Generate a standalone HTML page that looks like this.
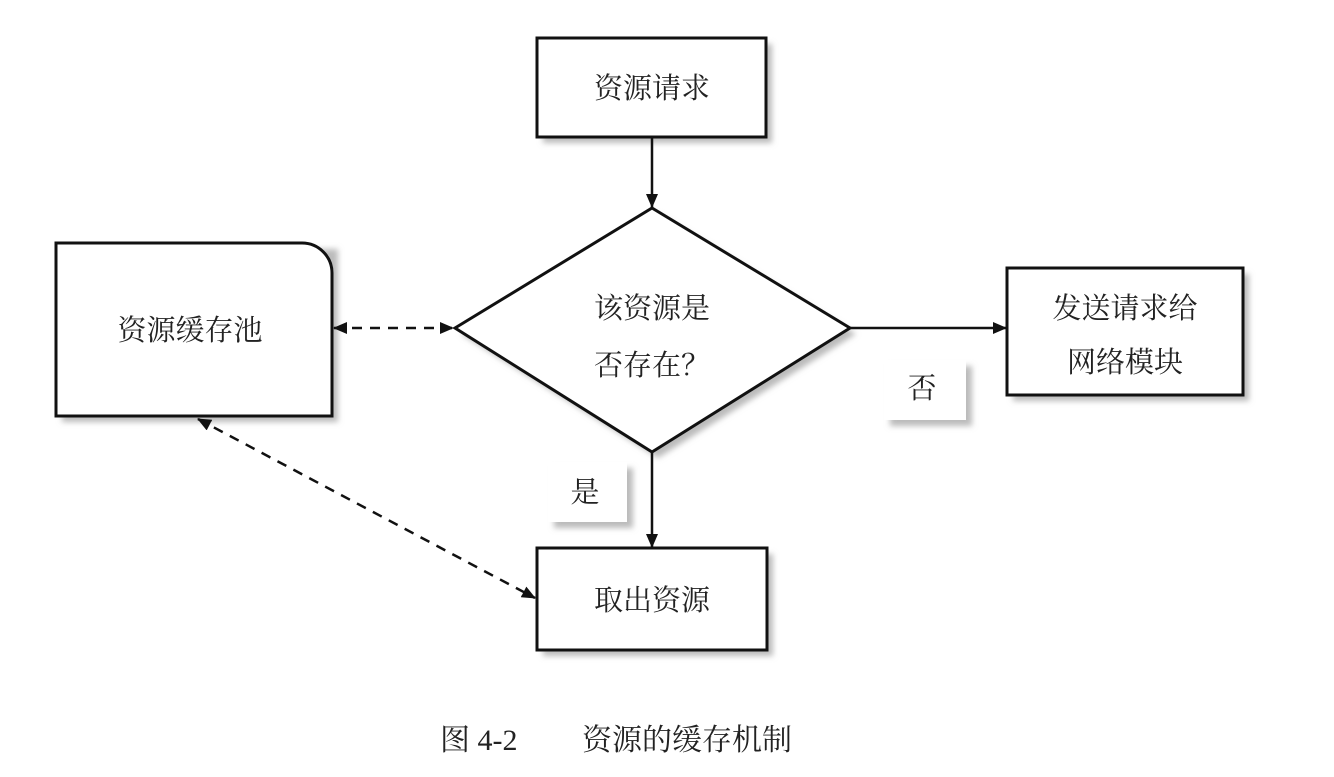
<!DOCTYPE html>
<html><head><meta charset="utf-8"><style>
body{margin:0;background:#fff;}
svg text{font-family:"Liberation Serif","Noto Serif CJK SC",serif;fill:#222;}
</style></head><body>
<svg width="1334" height="772" viewBox="0 0 1334 772" xmlns="http://www.w3.org/2000/svg">
<defs>
<filter id="sh" x="-10%" y="-10%" width="130%" height="130%"><feGaussianBlur stdDeviation="3"/></filter>
<marker id="a" markerWidth="10" markerHeight="10" refX="9" refY="5" orient="auto-start-reverse" markerUnits="userSpaceOnUse"><path d="M0,0 L10,5 L0,10 Z" fill="#111"/></marker>
<marker id="b" markerWidth="14" markerHeight="12" refX="13" refY="6" orient="auto-start-reverse" markerUnits="userSpaceOnUse"><path d="M0,0 L14,6 L0,12 Z" fill="#111"/></marker>
</defs>
<g fill="#bbb" filter="url(#sh)">
<rect x="543" y="44" width="229" height="99"/>
<rect x="62" y="249" width="276" height="173"/>
<rect x="1013" y="274" width="236" height="127"/>
<rect x="543" y="554" width="230" height="102"/>
<polygon points="461,334 658,214 856,334 658,458"/>
<rect x="890" y="366" width="82" height="60"/>
<rect x="554" y="468" width="79" height="60"/>
</g>
<g fill="#fff" stroke="#111" stroke-width="3">
<rect x="537" y="38" width="229" height="99"/>
<path d="M56,243 H302 A30,30 0 0 1 332,273 V416 H56 Z"/>
<rect x="1007" y="268" width="236" height="127"/>
<rect x="537" y="548" width="230" height="102"/>
<polygon points="455,328 652,208 850,328 652,452"/>
</g>
<rect x="884" y="360" width="82" height="60" fill="#fff"/>
<rect x="548" y="462" width="79" height="60" fill="#fff"/>
<g stroke="#111" stroke-width="2.5" fill="none">
<line x1="652" y1="137" x2="652" y2="207" marker-end="url(#b)"/>
<line x1="652" y1="452" x2="652" y2="547" marker-end="url(#b)"/>
<line x1="850" y1="328" x2="1006" y2="328" marker-end="url(#b)"/>
<line x1="334" y1="328" x2="453" y2="328" stroke-dasharray="10,8" marker-start="url(#b)" marker-end="url(#b)"/>
<line x1="198" y1="419" x2="535" y2="598" stroke-dasharray="10,8" marker-start="url(#b)" marker-end="url(#b)"/>
</g>
<g font-size="29" text-anchor="middle">
<text x="652" y="98">资源请求</text>
<text x="190" y="340">资源缓存池</text>
<text x="652" y="318">该资源是</text>
<text x="652" y="375">否存在？</text>
<text x="1125" y="318">发送请求给</text>
<text x="1125" y="372">网络模块</text>
<text x="652" y="610">取出资源</text>
<text x="922" y="398">否</text>
<text x="585" y="502">是</text>
</g>
<text x="440" y="750" font-size="30">图 4-2</text>
<text x="582" y="750" font-size="30">资源的缓存机制</text>
</svg>
</body></html>
